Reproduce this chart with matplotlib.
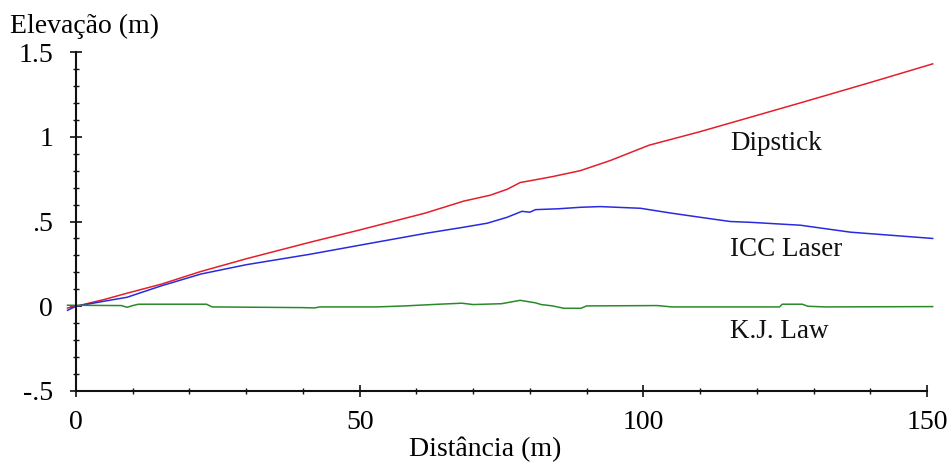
import matplotlib
matplotlib.use("Agg")
import matplotlib.pyplot as plt
from matplotlib.ticker import MultipleLocator, FixedLocator

plt.rcParams['font.family'] = ['Liberation Serif', 'DejaVu Serif']

# Data (distance in m, elevation in m)
dip_x = [-1.5, 0, 5, 9, 15, 22, 30, 41.3, 50, 61.6, 68.3, 73, 76, 78.3, 80, 84, 88.9, 94.2, 101, 110, 127.7, 140, 151]
dip_y = [-0.01, 0.0, 0.04, 0.077, 0.13, 0.205, 0.28, 0.378, 0.45, 0.55, 0.62, 0.655, 0.69, 0.73, 0.74, 0.765, 0.80, 0.86, 0.95, 1.03, 1.20, 1.32, 1.43]

icc_x = [-1.5, 0, 5, 9, 15, 22, 30, 41.3, 50, 61.6, 68.3, 72.5, 76, 78.6, 80, 81, 85, 89, 92.4, 99.5, 104.8, 110, 115.3, 119, 127.7, 136.5, 151]
icc_y = [-0.024, 0.0, 0.03, 0.053, 0.12, 0.19, 0.245, 0.307, 0.36, 0.43, 0.466, 0.49, 0.525, 0.56, 0.555, 0.57, 0.575, 0.584, 0.588, 0.578, 0.55, 0.525, 0.50, 0.495, 0.478, 0.437, 0.40]

kj_x = [-1.5, 8, 9, 10, 11, 23, 24, 40, 42, 43, 53, 58, 64, 68, 70, 72, 75, 78.3, 81, 82, 84, 86, 89, 90, 102.5, 105, 124, 124.5, 128, 129, 132, 151]
kj_y = [0.006, 0.004, -0.006, 0.004, 0.012, 0.012, -0.004, -0.008, -0.01, -0.004, -0.004, 0.002, 0.012, 0.018, 0.01, 0.012, 0.015, 0.035, 0.02, 0.01, 0.002, -0.012, -0.012, 0.002, 0.004, -0.004, -0.004, 0.012, 0.012, 0.0, -0.004, -0.002]

series_names = ["Dipstick", "ICC Laser", "K.J. Law"]
label_pos_y = [0.96, 0.336, -0.147]
label_pos_x = 115.3

x_ticks = [0, 50, 100, 150]
x_ticklabels = ["0", "50", "100", "150"]
y_ticks = [-0.5, 0, 0.5, 1, 1.5]
y_ticklabels = ["-.5", "0", ".5", "1", "1.5"]

fig = plt.figure(figsize=(9.5, 4.63), dpi=100)
ax = fig.add_axes([76/950, 1-391/463, (927-76)/950, (391-52)/463])

colors = ['#e3202a', '#2a2ae0', '#2a8a2a']
for xs, ys, c in zip([dip_x, icc_x, kj_x], [dip_y, icc_y, kj_y], colors):
    ax.plot(xs, ys, color=c, lw=1.1, clip_on=False)

for name, yy in zip(series_names, label_pos_y):
    ax.text(label_pos_x, yy, name, fontsize=19.5, ha='left', va='center', color='#111111')

ax.set_xlim(0, 150)
ax.set_ylim(-0.5, 1.5)
ax.spines['top'].set_visible(False)
ax.spines['right'].set_visible(False)
for s in ['left', 'bottom']:
    ax.spines[s].set_linewidth(1.5)
    ax.spines[s].set_color('#111111')

ax.xaxis.set_major_locator(FixedLocator(x_ticks))
ax.set_xticklabels(x_ticklabels)
ax.yaxis.set_major_locator(FixedLocator(y_ticks))
ax.set_yticklabels(y_ticklabels)
ax.xaxis.set_minor_locator(MultipleLocator(10))
ax.yaxis.set_minor_locator(MultipleLocator(0.1))

ax.tick_params(which='major', direction='inout', length=9, width=1.2, color='#111111', labelsize=20)
ax.tick_params(which='minor', direction='inout', length=5, width=1.0, color='#111111')
ax.tick_params(axis='y', which='major', pad=12)
ax.tick_params(axis='x', which='major', pad=9)

fig.text(10/950, 1-26/463, "Elevação (m)", fontsize=20, ha='left', va='center')
fig.text(485/950, 1-449/463, "Distância (m)", fontsize=20, ha='center', va='center')

fig.savefig("out.png", dpi=100)
